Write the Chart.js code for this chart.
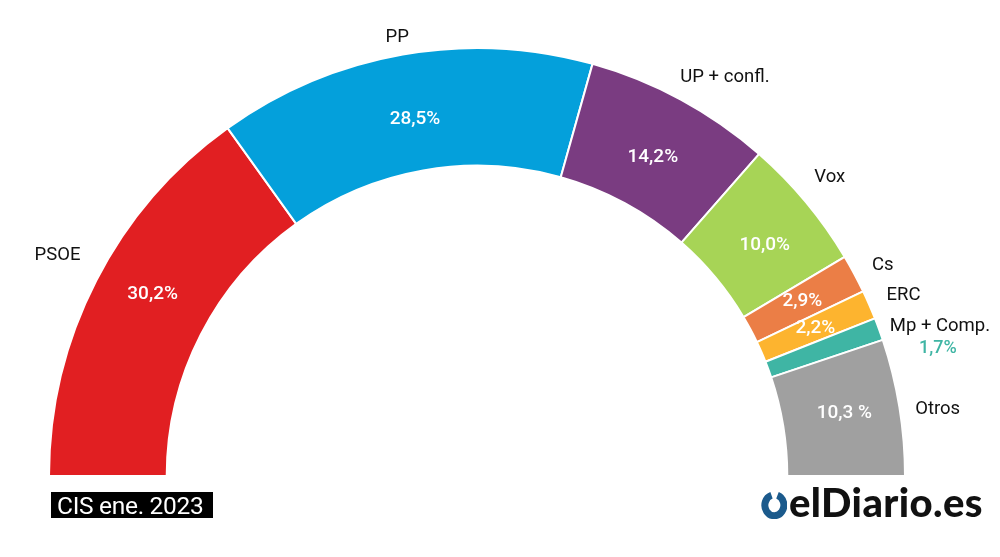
<!DOCTYPE html>
<html lang="es">
<head>
<meta charset="utf-8">
<title>CIS ene. 2023</title>
<script src="https://cdn.jsdelivr.net/npm/chart.js@4.4.1/dist/chart.umd.min.js"></script>
<style>
  html, body { margin: 0; padding: 0; background: #fff; }
  #wrap { position: relative; width: 1000px; height: 557px; overflow: hidden; }
  #chart { position: absolute; left: 0; top: 0; }
  .fuente {
    position: absolute; left: 51px; top: 492px; height: 26px; line-height: 27px;
    padding: 0 10px 0 6px; background: #000; color: #fff;
    font-family: Roboto, sans-serif; font-size: 24.5px; font-weight: 400; letter-spacing: -0.3px;
  }
  .logo {
    position: absolute; left: 761px; top: 482px; height: 40px;
    display: flex; align-items: center;
    font-family: Lato, Roboto, sans-serif; font-weight: 900; font-size: 40px;
    letter-spacing: 0.4px; color: #111;
  }
  .logo svg { margin-right: 2px; margin-top: 5px; }
</style>
</head>
<body>
<div id="wrap">
  <canvas id="chart" width="1000" height="557"></canvas>
  <div class="fuente">CIS ene. 2023</div>
  <div class="logo">
    <svg width="26" height="28" viewBox="0 0 26 28">
      <path d="M16.5 4.3 A9.5 10.5 0 1 1 10.5 4.2" fill="none" stroke="#1b5a8c" stroke-width="7"/>
    </svg>
    <span>elDiario.es</span>
  </div>
</div>

<script>
// Datos (CIS, enero 2023)
const partidos = ['PSOE', 'PP', 'UP + confl.', 'Vox', 'Cs', 'ERC', 'Mp + Comp.', 'Otros'];
const votos = [30.2, 28.5, 14.2, 10.0, 2.9, 2.2, 1.7, 10.3];
const etiquetasPct = ['30,2%', '28,5%', '14,2%', '10,0%', '2,9%', '2,2%', '1,7%', '10,3 %'];
const colores = ['#e11f22', '#04a0db', '#7a3c81', '#a7d456', '#eb7e46', '#fdb42f', '#3fb5a4', '#a0a0a0'];
// el porcentaje va dentro del sector salvo en Mp (va debajo del nombre)
const pctDentro = [true, true, true, true, true, true, false, true];

// ajustes manuales de las etiquetas (px), como en el original
const ajusteNombre = [[2, -16], [-2, 3], [-10, -5], [-7, -12], [0, 1], [-1, -1], [-8, 4], [-4, 6]];
const ajustePct = [[4, -13], [2, 7], [0, 6], [4, 5], [0, 0], [0, 0], [0, 0], [3, -3]];

// =============================================
// Plugin de etiquetas
// =============================================

const etiquetasPlugin = {
  id: 'etiquetas',
  afterDatasetsDraw(chart) {
    const ctx = chart.ctx;
    const meta = chart.getDatasetMeta(0);
    ctx.save();
    ctx.textBaseline = 'middle';

    meta.data.forEach((arc, i) => {
      const p = arc.getProps(['x', 'y', 'startAngle', 'endAngle', 'innerRadius', 'outerRadius'], true);
      const mid = (p.startAngle + p.endAngle) / 2;
      const cos = Math.cos(mid);
      const sin = Math.sin(mid);

      // porcentaje dentro
      if (pctDentro[i]) {
        const r = (p.innerRadius + p.outerRadius) / 2;
        ctx.font = '500 19px Roboto, sans-serif';
        ctx.fillStyle = '#fff';
        ctx.textAlign = 'center';
        ctx.fillText(etiquetasPct[i], p.x + cos * r + ajustePct[i][0], p.y + sin * r + ajustePct[i][1]);
      }

      // nombre del partido fuera
      const ro = p.outerRadius + 20;
      const lx = p.x + cos * ro + ajusteNombre[i][0];
      const ly = p.y + sin * ro + ajusteNombre[i][1];
      ctx.font = '400 18.5px Roboto, sans-serif';
      ctx.fillStyle = '#111';
      let align = 'center';
      if (cos > 0.35) align = 'left';
      else if (cos < -0.35) align = 'right';
      ctx.textAlign = align;
      ctx.fillText(partidos[i], lx, ly);

      if (!pctDentro[i]) {
        const w = ctx.measureText(partidos[i]).width;
        const cx = align === 'left' ? lx + w / 2 : align === 'right' ? lx - w / 2 : lx;
        ctx.font = '500 18px Roboto, sans-serif';
        ctx.fillStyle = colores[i];
        ctx.textAlign = 'center';
        ctx.fillText(etiquetasPct[i], cx - 2, ly + 22);
      }
    });
    ctx.restore();
  }
};

// =============================================
// Gráfico
// =============================================

new Chart(document.getElementById('chart'), {
  type: 'doughnut',
  data: {
    labels: partidos,
    datasets: [{
      data: votos,
      backgroundColor: colores,
      borderColor: '#ffffff',
      borderWidth: 2,
      hoverOffset: 0,
    }]
  },
  options: {
    responsive: false,
    animation: false,
    rotation: -90,
    circumference: 180,
    cutout: '72.5%',
    layout: { padding: { left: 48, right: 94, top: 47, bottom: 80 } },
    plugins: {
      legend: { display: false },
      tooltip: { enabled: false },
    },
    events: [],
  },
  plugins: [etiquetasPlugin]
});
</script>
</body>
</html>
